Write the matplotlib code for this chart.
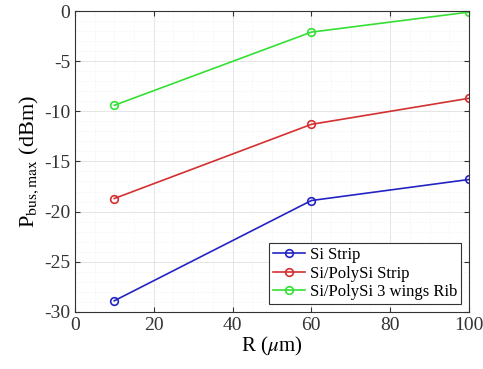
import matplotlib
matplotlib.use('Agg')
import matplotlib.pyplot as plt
from matplotlib.ticker import MultipleLocator

# data
radius = [10, 60, 100]
si_strip = [-28.9, -18.9, -16.8]
poly_strip = [-18.7, -11.3, -8.7]
poly_rib = [-9.4, -2.1, -0.1]
labels = ['Si Strip', 'Si/PolySi Strip', 'Si/PolySi 3 wings Rib']
colors = ['#2424c4', '#d43030', '#34e034']

plt.rcParams['font.family'] = 'Liberation Serif'
plt.rcParams['mathtext.fontset'] = 'stix'
plt.rcParams['axes.unicode_minus'] = False

fig = plt.figure(figsize=(4.83, 3.69), dpi=100)
ax = fig.add_axes([0.155, 0.155, 0.816, 0.815])

for ys, lab, c in zip([si_strip, poly_strip, poly_rib], labels, colors):
    ax.plot(radius, ys, '-o', color=c, lw=1.2, ms=5.5, mfc='none', mew=1.2, label=lab)

ax.set_xlim(0, 100)
ax.set_ylim(-30, 0)
ax.xaxis.set_major_locator(MultipleLocator(20))
ax.yaxis.set_major_locator(MultipleLocator(5))
ax.xaxis.set_minor_locator(MultipleLocator(5))
ax.yaxis.set_minor_locator(MultipleLocator(1))
ax.grid(True, which='major', color='#e0e0e0', lw=0.6)
ax.grid(True, which='minor', color='#ececec', lw=0.5, ls=':')
ax.set_axisbelow(True)
ax.tick_params(which='both', direction='in', top=True, right=True, labelsize=14, colors='#333333')
ax.tick_params(which='minor', length=0)
for s in ax.spines.values():
    s.set_color('#333333')
    s.set_linewidth(0.8)

ax.set_xlabel(r'R ($\mu$m)', fontsize=15, labelpad=1)
ax.set_ylabel(r'P$_{\rm bus,max}$ (dBm)', fontsize=16, labelpad=2)

leg = ax.legend(loc='lower right', fontsize=12, fancybox=False, framealpha=1,
                edgecolor='#333333', handlelength=1.9, handletextpad=0.3,
                borderpad=0.25, labelspacing=0.15, borderaxespad=0.45)
leg.get_frame().set_linewidth(0.8)

fig.savefig('out.png', dpi=100)
